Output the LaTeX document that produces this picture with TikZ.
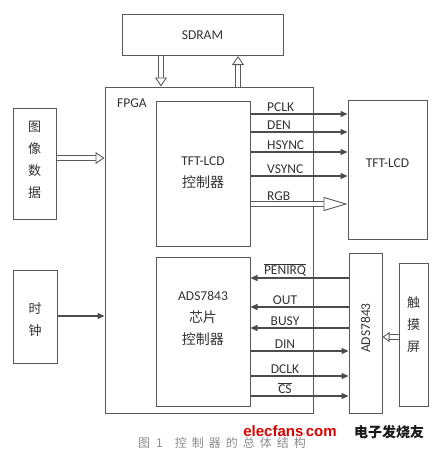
\documentclass[tikz,border=0pt]{standalone}
\usepackage{fontspec}
\setmainfont{Carlito}
\newfontfamily\cjk{Noto Sans CJK SC}
\newfontfamily\wm{Liberation Sans}
\usetikzlibrary{arrows.meta}

\begin{document}
\begin{tikzpicture}[x=1pt, y=-1pt, text=black!80,
    font=\fontsize{13.5}{22}\selectfont,
    box/.style 2 args={draw=black!65, line width=1pt, minimum width=#1, minimum height=#2, inner sep=0pt},
    zh/.style={font=\cjk\fontsize{13}{22}\selectfont, align=center},
    sig/.style={draw=black!70, line width=1.3pt, -{Triangle[length=7pt, width=6pt]}},
    bus/.style={draw=black!65, line width=0.9pt, double=white, double distance=4.5pt,
        -{Triangle[fill=white, length=9pt, width=12pt]}},
    lbl/.style={anchor=south, inner sep=2pt}]
        \useasboundingbox (0,0) rectangle (442,451);

        % blocks
        \node[box={161pt}{41pt}] (sdram) at (202.5,35) {SDRAM};
        \node[box={208pt}{326pt}] (fpga) at (209,250) {};
        \node (fpgalbl) at (132,103) {FPGA};
        \node[box={94pt}{145pt}] (tftc) at (203,173.5) {};
        \node[align=center] (tftctxt) at (203,173) {TFT-LCD\\{\cjk\fontsize{14}{22}\selectfont 控制器}};
        \node[box={79pt}{139pt}] (lcd) at (387.5,169.5) {};
        \node (lcdtxt) at (387.5,163) {TFT-LCD};
        \node[box={94pt}{149pt}] (adsc) at (203,331.5) {};
        \node[align=center] (adsctxt) at (203,318) {ADS7843\\{\cjk\fontsize{14}{22}\selectfont 芯片}\\{\cjk\fontsize{14}{22}\selectfont 控制器}};
        \node[box={33pt}{160pt}] (ads) at (365.5,333) {};
        \node[rotate=90] (adstxt) at (365.5,328) {ADS7843};
        \node[box={29pt}{143pt}] (touch) at (413.5,334.5) {};
        \node[zh] (touchtxt) at (413.5,325) {触\\摸\\屏};
        \node[box={43pt}{111pt}] (img) at (34.5,163.5) {};
        \node[zh] (imgtxt) at (34.5,160) {图\\像\\数\\据};
        \node[box={44pt}{93pt}] (clk) at (35,316.5) {};
        \node[zh] (clktxt) at (35,320) {时\\钟};

        % sdram bus
        \draw[bus] (sdram.south -| 161,0) -- (fpga.north -| 161,0);
        \draw[bus] (fpga.north -| 238,0) -- (sdram.south -| 238,0);

        % inputs
        \draw[bus] (img.east |- 0,158) -- (fpga.west |- 0,158);
        \draw[sig] (clk.east |- 0,316) -- (fpga.west |- 0,316);

        % tft-lcd signals
        \foreach \y/\t in {114/PCLK, 132/DEN, 152/HSYNC, 176/VSYNC} {
            \draw[sig] (tftc.east |- 0,\y) -- (lcd.west |- 0,\y);
            \node[lbl, anchor=south west] at (265,\y) {\t};
        }
        \draw[bus, -{Triangle[fill=white, length=24pt, width=14pt]}] (tftc.east |- 0,204) -- (lcd.west |- 0,204);
        \node[lbl, anchor=south west] at (265,203) {RGB};

        % ads7843 signals
        \foreach \y/\t in {278/$\overline{\hbox{PENIRQ}}$, 307/OUT, 328/BUSY} {
            \draw[sig] (ads.west |- 0,\y) -- (adsc.east |- 0,\y);
            \node[lbl] at (285,\y) {\t};
        }
        \foreach \y/\t in {351/DIN, 376/DCLK, 396/$\overline{\hbox{CS}}$} {
            \draw[sig] (adsc.east |- 0,\y) -- (ads.west |- 0,\y);
            \node[lbl] at (285,\y) {\t};
        }
        \draw[bus, double distance=4pt, -{Triangle[fill=white, length=7pt, width=10pt]}] (touch.west |- 0,337) -- (ads.east |- 0,337);

        % caption
        \node[font=\cjk\fontsize{12}{14}\selectfont, text=black!45] (caption) at (222,443)
            {图\hspace{6pt}1\hspace{12pt}控\hspace{5pt}制\hspace{5pt}器\hspace{5pt}的\hspace{5pt}总\hspace{5pt}体\hspace{5pt}结\hspace{5pt}构};
        \node[font=\wm\bfseries\fontsize{15}{17}\selectfont, text=red!85!black] (wmark) at (290,431) {elecfans{\footnotesize$\cdot$}com};
        \node[font=\cjk\bfseries\fontsize{14}{16}\selectfont, text=black!90] (wmzh) at (389,432) {电子发烧友};
      \end{tikzpicture}
\end{document}
